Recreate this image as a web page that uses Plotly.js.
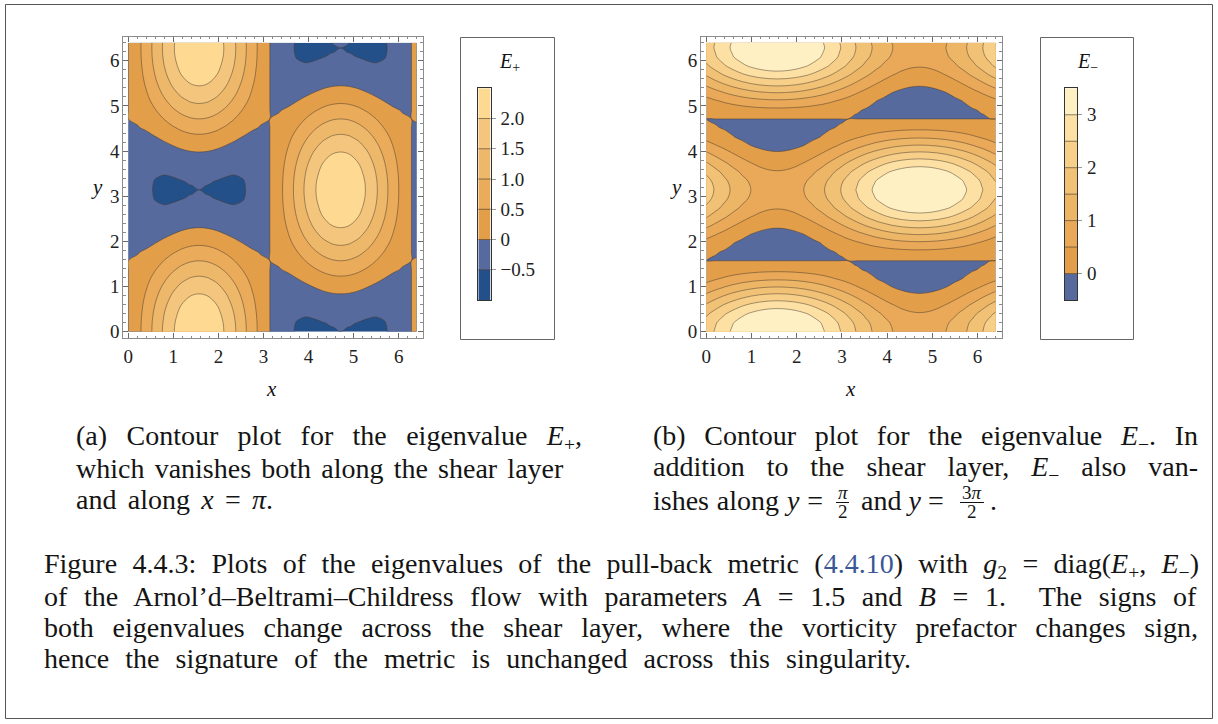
<!DOCTYPE html>
<html><head><meta charset="utf-8">
<script src="https://cdn.plot.ly/plotly-3.0.1.min.js"></script>
<style>html,body{margin:0;padding:0;background:#fff;} #chart{width:1218px;height:724px;}</style>
</head><body><div id="chart"></div>
<script>
// ---- grid coordinates ----
const xGrid = [0, 0.1963, 0.3927, 0.5890, 0.7854, 0.9817, 1.1781, 1.3744, 1.5708, 1.7671, 1.9635, 2.1598, 2.3562, 2.5525, 2.7489, 2.9452, 3.1416, 3.3379, 3.5343, 3.7306, 3.9270, 4.1233, 4.3197, 4.5160, 4.7124, 4.9087, 5.1051, 5.3014, 5.4978, 5.6941, 5.8905, 6.0868, 6.2832, 6.4];
const yGridPlus = [0, 0.0982, 0.1963, 0.3927, 0.5890, 0.7854, 0.9817, 1.1781, 1.3744, 1.5708, 1.7671, 1.9635, 2.1598, 2.3562, 2.5525, 2.7489, 2.9452, 3.0434, 3.1416, 3.2398, 3.3379, 3.5343, 3.7306, 3.9270, 4.1233, 4.3197, 4.5160, 4.7124, 4.9087, 5.1051, 5.3014, 5.4978, 5.6941, 5.8905, 6.0868, 6.1850, 6.2832, 6.4];
const yGridMinus = [0, 0.1963, 0.3927, 0.5890, 0.7854, 0.9817, 1.1781, 1.3744, 1.4726, 1.5708, 1.6690, 1.7671, 1.9635, 2.1598, 2.3562, 2.5525, 2.7489, 2.9452, 3.1416, 3.3379, 3.5343, 3.7306, 3.9270, 4.1233, 4.3197, 4.5160, 4.6142, 4.7124, 4.8106, 4.9087, 5.1051, 5.3014, 5.4978, 5.6941, 5.8905, 6.0868, 6.2832, 6.4];

// ---- E+ rows (one per y line, values along xGrid) ----
const P_p1000 = [0, .331, .721, 1.142, 1.561, 1.939, 2.239, 2.433, 2.500, 2.433, 2.239, 1.939, 1.561, 1.142, .721, .331, 0, -.255, -.428, -.525, -.561, -.556, -.532, -.509, -.500, -.509, -.532, -.556, -.561, -.525, -.428, -.255, 0, .188];
const P_m1000 = [0, -.255, -.428, -.525, -.561, -.556, -.532, -.509, -.500, -.509, -.532, -.556, -.561, -.525, -.428, -.255, 0, .331, .721, 1.142, 1.561, 1.939, 2.239, 2.433, 2.500, 2.433, 2.239, 1.939, 1.561, 1.142, .721, .331, 0, -.161];
const P_p0995 = [0, .329, .718, 1.138, 1.556, 1.933, 2.233, 2.426, 2.493, 2.426, 2.233, 1.933, 1.556, 1.138, .718, .329, 0, -.253, -.425, -.521, -.556, -.550, -.526, -.502, -.493, -.502, -.526, -.550, -.556, -.521, -.425, -.253, 0, .188];
const P_m0995 = [0, -.253, -.425, -.521, -.556, -.550, -.526, -.502, -.493, -.502, -.526, -.550, -.556, -.521, -.425, -.253, 0, .329, .718, 1.138, 1.556, 1.933, 2.233, 2.426, 2.493, 2.426, 2.233, 1.933, 1.556, 1.138, .718, .329, 0, -.160];
const P_p0981 = [0, .325, .710, 1.126, 1.540, 1.915, 2.213, 2.405, 2.471, 2.405, 2.213, 1.915, 1.540, 1.126, .710, .325, 0, -.249, -.417, -.509, -.540, -.532, -.506, -.481, -.471, -.481, -.506, -.532, -.540, -.509, -.417, -.249, 0, .185];
const P_m0981 = [0, -.249, -.417, -.509, -.540, -.532, -.506, -.481, -.471, -.481, -.506, -.532, -.540, -.509, -.417, -.249, 0, .325, .710, 1.126, 1.540, 1.915, 2.213, 2.405, 2.471, 2.405, 2.213, 1.915, 1.540, 1.126, .710, .325, 0, -.158];
const P_p0924 = [0, .309, .677, 1.079, 1.480, 1.844, 2.134, 2.321, 2.386, 2.321, 2.134, 1.844, 1.480, 1.079, .677, .309, 0, -.232, -.384, -.461, -.480, -.461, -.427, -.397, -.386, -.397, -.427, -.461, -.480, -.461, -.384, -.232, 0, .175];
const P_m0924 = [0, -.232, -.384, -.461, -.480, -.461, -.427, -.397, -.386, -.397, -.427, -.461, -.480, -.461, -.384, -.232, 0, .309, .677, 1.079, 1.480, 1.844, 2.134, 2.321, 2.386, 2.321, 2.134, 1.844, 1.480, 1.079, .677, .309, 0, -.148];
const P_p0832 = [0, .281, .624, 1.002, 1.382, 1.729, 2.006, 2.185, 2.247, 2.185, 2.006, 1.729, 1.382, 1.002, .624, .281, 0, -.205, -.331, -.384, -.382, -.346, -.299, -.261, -.247, -.261, -.299, -.346, -.382, -.384, -.331, -.205, 0, .159];
const P_m0832 = [0, -.205, -.331, -.384, -.382, -.346, -.299, -.261, -.247, -.261, -.299, -.346, -.382, -.384, -.331, -.205, 0, .281, .624, 1.002, 1.382, 1.729, 2.006, 2.185, 2.247, 2.185, 2.006, 1.729, 1.382, 1.002, .624, .281, 0, -.132];
const P_p0707 = [0, .245, .552, .898, 1.250, 1.573, 1.834, 2.002, 2.061, 2.002, 1.834, 1.573, 1.250, .898, .552, .245, 0, -.169, -.259, -.281, -.250, -.191, -.126, -.078, -.061, -.078, -.126, -.191, -.250, -.281, -.259, -.169, 0, .137];
const P_m0707 = [0, -.169, -.259, -.281, -.250, -.191, -.126, -.078, -.061, -.078, -.126, -.191, -.250, -.281, -.259, -.169, 0, .245, .552, .898, 1.250, 1.573, 1.834, 2.002, 2.061, 2.002, 1.834, 1.573, 1.250, .898, .552, .245, 0, -.110];
const P_p0556 = [0, .201, .465, .772, 1.089, 1.384, 1.624, 1.779, 1.833, 1.779, 1.624, 1.384, 1.089, .772, .465, .201, 0, -.125, -.172, -.154, -.089, -.002, .084, .145, .167, .145, .084, -.002, -.089, -.154, -.172, -.125, 0, .111];
const P_m0556 = [0, -.125, -.172, -.154, -.089, -.002, .084, .145, .167, .145, .084, -.002, -.089, -.154, -.172, -.125, 0, .201, .465, .772, 1.089, 1.384, 1.624, 1.779, 1.833, 1.779, 1.624, 1.384, 1.089, .772, .465, .201, 0, -.084];
const P_p0383 = [0, .150, .366, .628, .906, 1.169, 1.384, 1.525, 1.574, 1.525, 1.384, 1.169, .906, .628, .366, .150, 0, -.074, -.073, -.010, .094, .214, .323, .399, .426, .399, .323, .214, .094, -.010, -.073, -.074, 0, .081];
const P_m0383 = [0, -.074, -.073, -.010, .094, .214, .323, .399, .426, .399, .323, .214, .094, -.010, -.073, -.074, 0, .150, .366, .628, .906, 1.169, 1.384, 1.525, 1.574, 1.525, 1.384, 1.169, .906, .628, .366, .150, 0, -.053];
const P_p0195 = [0, .095, .259, .471, .707, .935, 1.124, 1.249, 1.293, 1.249, 1.124, .935, .707, .471, .259, .095, 0, -.019, .035, .146, .293, .448, .583, .675, .707, .675, .583, .448, .293, .146, .035, -.019, 0, .048];
const P_m0195 = [0, -.019, .035, .146, .293, .448, .583, .675, .707, .675, .583, .448, .293, .146, .035, -.019, 0, .095, .259, .471, .707, .935, 1.124, 1.249, 1.293, 1.249, 1.124, .935, .707, .471, .259, .095, 0, -.021];
const P_zero = [0, .038, .146, .309, .500, .691, .854, .962, 1.000, .962, .854, .691, .500, .309, .146, .038, 0, .038, .146, .309, .500, .691, .854, .962, 1.000, .962, .854, .691, .500, .309, .146, .038, 0, .014];
const P_p0993 = [0, .329, .717, 1.136, 1.553, 1.930, 2.230, 2.423, 2.490, 2.423, 2.230, 1.930, 1.553, 1.136, .717, .329, 0, -.253, -.424, -.519, -.553, -.547, -.523, -.499, -.490, -.499, -.523, -.547, -.553, -.519, -.424, -.253, 0, .187];
const ePlus = [P_p1000, P_p0995, P_p0981, P_p0924, P_p0832, P_p0707, P_p0556, P_p0383, P_p0195, P_zero, P_m0195, P_m0383, P_m0556, P_m0707, P_m0832, P_m0924, P_m0981, P_m0995, P_m1000, P_m0995, P_m0981, P_m0924, P_m0832, P_m0707, P_m0556, P_m0383, P_m0195, P_zero, P_p0195, P_p0383, P_p0556, P_p0707, P_p0832, P_p0924, P_p0981, P_p0995, P_p1000, P_p0993];

// ---- E- rows (one per y line, values along xGrid) ----
const M_p1000 = [2.250, 2.543, 2.824, 3.083, 3.311, 3.497, 3.636, 3.721, 3.750, 3.721, 3.636, 3.497, 3.311, 3.083, 2.824, 2.543, 2.250, 1.957, 1.676, 1.417, 1.189, 1.003, .864, .779, .750, .779, .864, 1.003, 1.189, 1.417, 1.676, 1.957, 2.250, 2.425];
const M_m1000 = [2.250, 1.957, 1.676, 1.417, 1.189, 1.003, .864, .779, .750, .779, .864, 1.003, 1.189, 1.417, 1.676, 1.957, 2.250, 2.543, 2.824, 3.083, 3.311, 3.497, 3.636, 3.721, 3.750, 3.721, 3.636, 3.497, 3.311, 3.083, 2.824, 2.543, 2.250, 2.075];
const M_p0981 = [2.164, 2.451, 2.727, 2.982, 3.205, 3.388, 3.524, 3.607, 3.636, 3.607, 3.524, 3.388, 3.205, 2.982, 2.727, 2.451, 2.164, 1.877, 1.601, 1.347, 1.124, .941, .805, .721, .693, .721, .805, .941, 1.124, 1.347, 1.601, 1.877, 2.164, 2.336];
const M_m0981 = [2.164, 1.877, 1.601, 1.347, 1.124, .941, .805, .721, .693, .721, .805, .941, 1.124, 1.347, 1.601, 1.877, 2.164, 2.451, 2.727, 2.982, 3.205, 3.388, 3.524, 3.607, 3.636, 3.607, 3.524, 3.388, 3.205, 2.982, 2.727, 2.451, 2.164, 1.993];
const M_p0924 = [1.921, 2.191, 2.451, 2.691, 2.901, 3.073, 3.201, 3.280, 3.307, 3.280, 3.201, 3.073, 2.901, 2.691, 2.451, 2.191, 1.921, 1.650, 1.390, 1.151, .941, .768, .640, .561, .535, .561, .640, .768, .941, 1.151, 1.390, 1.650, 1.921, 2.082];
const M_m0924 = [1.921, 1.650, 1.390, 1.151, .941, .768, .640, .561, .535, .561, .640, .768, .941, 1.151, 1.390, 1.650, 1.921, 2.191, 2.451, 2.691, 2.901, 3.073, 3.201, 3.280, 3.307, 3.280, 3.201, 3.073, 2.901, 2.691, 2.451, 2.191, 1.921, 1.759];
const M_p0832 = [1.556, 1.799, 2.033, 2.249, 2.438, 2.593, 2.708, 2.779, 2.803, 2.779, 2.708, 2.593, 2.438, 2.249, 2.033, 1.799, 1.556, 1.312, 1.078, .863, .674, .519, .403, .332, .308, .332, .403, .519, .674, .863, 1.078, 1.312, 1.556, 1.701];
const M_m0832 = [1.556, 1.312, 1.078, .863, .674, .519, .403, .332, .308, .332, .403, .519, .674, .863, 1.078, 1.312, 1.556, 1.799, 2.033, 2.249, 2.438, 2.593, 2.708, 2.779, 2.803, 2.779, 2.708, 2.593, 2.438, 2.249, 2.033, 1.799, 1.556, 1.410];
const M_p0707 = [1.125, 1.332, 1.531, 1.714, 1.875, 2.007, 2.105, 2.165, 2.186, 2.165, 2.105, 2.007, 1.875, 1.714, 1.531, 1.332, 1.125, .918, .719, .536, .375, .243, .145, .085, .064, .085, .145, .243, .375, .536, .719, .918, 1.125, 1.249];
const M_m0707 = [1.125, .918, .719, .536, .375, .243, .145, .085, .064, .085, .145, .243, .375, .536, .719, .918, 1.125, 1.332, 1.531, 1.714, 1.875, 2.007, 2.105, 2.165, 2.186, 2.165, 2.105, 2.007, 1.875, 1.714, 1.531, 1.332, 1.125, 1.001];
const M_p0556 = [.695, .857, 1.013, 1.158, 1.284, 1.388, 1.465, 1.512, 1.528, 1.512, 1.465, 1.388, 1.284, 1.158, 1.013, .857, .695, .532, .376, .232, .105, .002, -.076, -.123, -.139, -.123, -.076, .002, .105, .232, .376, .532, .695, .792];
const M_m0556 = [.695, .532, .376, .232, .105, .002, -.076, -.123, -.139, -.123, -.076, .002, .105, .232, .376, .532, .695, .857, 1.013, 1.158, 1.284, 1.388, 1.465, 1.512, 1.528, 1.512, 1.465, 1.388, 1.284, 1.158, 1.013, .857, .695, .597];
const M_p0383 = [.330, .442, .549, .648, .735, .807, .860, .893, .904, .893, .860, .807, .735, .648, .549, .442, .330, .218, .110, .011, -.076, -.148, -.201, -.234, -.245, -.234, -.201, -.148, -.076, .011, .110, .218, .330, .396];
const M_m0383 = [.330, .218, .110, .011, -.076, -.148, -.201, -.234, -.245, -.234, -.201, -.148, -.076, .011, .110, .218, .330, .442, .549, .648, .735, .807, .860, .893, .904, .893, .860, .807, .735, .648, .549, .442, .330, .263];
const M_p0195 = [.086, .143, .198, .248, .293, .329, .356, .373, .378, .373, .356, .329, .293, .248, .198, .143, .086, .029, -.026, -.077, -.121, -.158, -.185, -.201, -.207, -.201, -.185, -.158, -.121, -.077, -.026, .029, .086, .120];
const M_m0195 = [.086, .029, -.026, -.077, -.121, -.158, -.185, -.201, -.207, -.201, -.185, -.158, -.121, -.077, -.026, .029, .086, .143, .198, .248, .293, .329, .356, .373, .378, .373, .356, .329, .293, .248, .198, .143, .086, .052];
const M_p0098 = [.022, .050, .078, .103, .126, .144, .157, .166, .169, .166, .157, .144, .126, .103, .078, .050, .022, -.007, -.035, -.060, -.082, -.101, -.114, -.123, -.125, -.123, -.114, -.101, -.082, -.060, -.035, -.007, .022, .039];
const M_m0098 = [.022, -.007, -.035, -.060, -.082, -.101, -.114, -.123, -.125, -.123, -.114, -.101, -.082, -.060, -.035, -.007, .022, .050, .078, .103, .126, .144, .157, .166, .169, .166, .157, .144, .126, .103, .078, .050, .022, .005];
const M_zero = [0, 0, 0, 0, 0, 0, 0, 0, 0, 0, 0, 0, 0, 0, 0, 0, 0, 0, 0, 0, 0, 0, 0, 0, 0, 0, 0, 0, 0, 0, 0, 0, 0, 0];
const M_p0993 = [2.220, 2.510, 2.790, 3.047, 3.273, 3.458, 3.596, 3.681, 3.709, 3.681, 3.596, 3.458, 3.273, 3.047, 2.790, 2.510, 2.220, 1.929, 1.649, 1.392, 1.166, .981, .843, .758, .730, .758, .843, .981, 1.166, 1.392, 1.649, 1.929, 2.220, 2.393];
const eMinus = [M_p1000, M_p0981, M_p0924, M_p0832, M_p0707, M_p0556, M_p0383, M_p0195, M_p0098, M_zero, M_m0098, M_m0195, M_m0383, M_m0556, M_m0707, M_m0832, M_m0924, M_m0981, M_m1000, M_m0981, M_m0924, M_m0832, M_m0707, M_m0556, M_m0383, M_m0195, M_m0098, M_zero, M_p0098, M_p0195, M_p0383, M_p0556, M_p0707, M_p0832, M_p0924, M_p0981, M_p1000, M_p0993];

// ---- contour levels, bands, colours, tick labels ----
const ePlusLevels = [-0.5, 0, 0.5, 1.0, 1.5, 2.0];
const eMinusLevels = [0, 0.5, 1.0, 1.5, 2.0, 2.5, 3.0];
const ePlusBands = [-0.75, -0.25, 0.25, 0.75, 1.25, 1.75, 2.25];
const eMinusBands = [-0.25, 0.25, 0.75, 1.25, 1.75, 2.25, 2.75, 3.25];
const ePlusColors = ['#245089', '#566a9e', '#e39e4a', '#eaab5b', '#eeb86b', '#f4c67d', '#fdd991'];
const eMinusColors = ['#566a9e', '#e39e4a', '#e9a958', '#edb566', '#f1c176', '#f7cf89', '#fde0a3', '#fff0c4'];
const axisTicks = [0, 1, 2, 3, 4, 5, 6];
const axisTickLabels = ['0', '1', '2', '3', '4', '5', '6'];
const ePlusBarTicks = [-0.5, 0, 0.5, 1.0, 1.5, 2.0];
const ePlusBarLabels = ['\u22120.5', '0', '0.5', '1.0', '1.5', '2.0'];
const eMinusBarTicks = [0, 1, 2, 3];
const eMinusBarLabels = ['0', '1', '2', '3'];

const W = 1218, H = 724;
const px = v => v / W, py = v => 1 - v / H;
const SERIF = 'Liberation Serif, Times New Roman, serif';
const LINE = 'rgba(70,58,45,0.62)';

function scale(cols) { return cols.map((c, i) => [i / (cols.length - 1), c]); }

function contourTrace(x, y, z, levels, cols, xa, ya) {
  return {type: 'contour', x: x, y: y, z: z, xaxis: xa, yaxis: ya,
    autocontour: false,
    contours: {start: levels[0], end: levels[levels.length - 1], size: levels[1] - levels[0], coloring: 'fill', showlines: true},
    line: {color: LINE, width: 0.8, smoothing: 1},
    colorscale: scale(cols), showscale: false, hoverinfo: 'skip'};
}
function barTrace(bands, cols, xa, ya) {
  return {type: 'heatmap', x: [0], y: bands, z: bands.map(v => [v]), xaxis: xa, yaxis: ya,
    colorscale: scale(cols), zmin: bands[0], zmax: bands[bands.length - 1], showscale: false, hoverinfo: 'skip'};
}

const data = [
  contourTrace(xGrid, yGridPlus, ePlus, ePlusLevels, ePlusColors, 'x', 'y'),
  contourTrace(xGrid, yGridMinus, eMinus, eMinusLevels, eMinusColors, 'x2', 'y2'),
  barTrace(ePlusBands, ePlusColors, 'x3', 'y3'),
  barTrace(eMinusBands, eMinusColors, 'x4', 'y4')
];

function frameAxis(domain, range, anchor, standoff) {
  return {domain: domain, range: range, anchor: anchor, showline: true, linecolor: '#8c8c8c', linewidth: 1, mirror: 'ticks',
    ticks: 'inside', ticklen: 5, tickwidth: 1, tickcolor: '#6a6a6a', tickmode: 'array', tickvals: axisTicks, ticktext: axisTickLabels,
    showgrid: false, zeroline: false, tickfont: {family: SERIF, size: 19, color: '#222'},
    minor: {tickmode: 'linear', tick0: 0, dtick: 0.2, ticks: 'inside', ticklen: 2.5, tickcolor: '#8a8a8a', showgrid: false},
    ticklabelstandoff: standoff, fixedrange: true};
}
function barX(domain, anchor) {
  return {domain: domain, range: [-0.5, 0.5], anchor: anchor, showline: true, mirror: true, linecolor: '#333', linewidth: 1,
    showticklabels: false, ticks: '', showgrid: false, zeroline: false, fixedrange: true};
}
function barY(domain, range, anchor, tv, tt) {
  return {domain: domain, range: range, anchor: anchor, side: 'right', showline: true, mirror: true, linecolor: '#333', linewidth: 1,
    ticks: 'outside', ticklen: 4, tickcolor: '#999', tickmode: 'array', tickvals: tv, ticktext: tt,
    showgrid: false, zeroline: false, tickfont: {family: SERIF, size: 19, color: '#222'}, ticklabelstandoff: 1, fixedrange: true};
}

const shapes = [];
function rectPx(x0, y0, x1, y1, color) {
  shapes.push({type: 'rect', xref: 'paper', yref: 'paper', x0: px(x0), x1: px(x1), y0: py(y1), y1: py(y0),
    line: {color: color, width: 1}, fillcolor: 'rgba(0,0,0,0)'});
}
function linePx(x0, x1, y, color, w) {
  shapes.push({type: 'line', xref: 'paper', yref: 'paper', x0: px(x0), x1: px(x1), y0: py(y), y1: py(y), line: {color: color, width: w}});
}
rectPx(5.5, 4.5, 1212.5, 718.5, '#555');
rectPx(460.5, 37.5, 554.5, 339.5, '#666');
rectPx(1040.5, 37.5, 1133.5, 339.5, '#666');
ePlusLevels.forEach(l => shapes.push({type: 'line', xref: 'x3 domain', yref: 'y3', x0: 0, x1: 1, y0: l, y1: l, line: {color: LINE, width: 1}}));
eMinusLevels.forEach(l => shapes.push({type: 'line', xref: 'x4 domain', yref: 'y4', x0: 0, x1: 1, y0: l, y1: l, line: {color: LINE, width: 1}}));
linePx(836, 849, 502.5, '#111', 1);
linePx(960, 984, 502.5, '#111', 1);

const annotations = [];
const targets = [];
function txt(text, x, y, size, anchor, target) {
  annotations.push({text: text, x: px(x), y: py(y), xref: 'paper', yref: 'paper', showarrow: false,
    xanchor: anchor || 'left', yanchor: 'middle', align: 'left', borderpad: 0,
    font: {family: SERIF, size: size || 28, color: '#141414'}});
  targets.push(target || 0);
}
txt('<i>y</i>', 97, 187, 21, 'center');
txt('<i>x</i>', 271, 389, 21, 'center');
txt('<i>y</i>', 676, 187, 21, 'center');
txt('<i>x</i>', 850, 389, 21, 'center');
txt('<i>E</i><sub>+</sub>', 509, 62, 20, 'center');
txt('<i>E</i><sub>\u2212</sub>', 1087, 62, 20, 'center');
txt('(a) Contour plot for the eigenvalue <i>E</i><sub>+</sub>,', 75, 437, 28, 'left', 506);
txt('which vanishes both along the shear layer', 75, 468, 28, 'left', 488);
txt('and along <i>x</i> = <i>\u03c0</i>.', 75, 499, 28, 'left', 197);
txt('(b) Contour plot for the eigenvalue <i>E</i><sub>\u2212</sub>. In', 652, 437, 28, 'left', 545);
txt('addition to the shear layer, <i>E</i><sub>\u2212</sub> also van-', 652, 468, 28, 'left', 545);
txt('ishes along <i>y</i> =', 652, 500, 28, 'left', 170);
txt('<i>\u03c0</i>', 842.5, 492, 19, 'center');
txt('2', 842.5, 511, 19, 'center');
txt('and <i>y</i> =', 860, 500, 28, 'left');
txt('3<i>\u03c0</i>', 972, 492, 19, 'center');
txt('2', 972, 511, 19, 'center');
txt('.', 989, 500, 28, 'left');
txt('Figure 4.4.3: Plots of the eigenvalues of the pull-back metric (<span style="color:#3a5797">4.4.10</span>) with <i>g</i><sub>2</sub> = diag(<i>E</i><sub>+</sub>, <i>E</i><sub>\u2212</sub>)', 43, 565, 28, 'left', 1155);
txt('of the Arnol\u2019d\u2013Beltrami\u2013Childress flow with parameters <i>A</i> = 1.5 and <i>B</i> = 1.  The signs of', 43, 596, 28, 'left', 1153);
txt('both eigenvalues change across the shear layer, where the vorticity prefactor changes sign,', 43, 627, 28, 'left', 1154);
txt('hence the signature of the metric is unchanged across this singularity.', 43, 658, 28, 'left', 867);

const layout = {
  width: W, height: H, margin: {l: 0, r: 0, t: 0, b: 0}, paper_bgcolor: '#fff', plot_bgcolor: '#fff', showlegend: false,
  xaxis: frameAxis([px(123.3), px(422.7)], [-0.111, 6.533], 'y', 1),
  yaxis: frameAxis([py(338.3), py(36.7)], [-0.146, 6.533], 'x', -1),
  xaxis2: frameAxis([px(701), px(1001.7)], [-0.117, 6.533], 'y2', 1),
  yaxis2: frameAxis([py(338.3), py(36.7)], [-0.146, 6.533], 'x2', -1),
  xaxis3: barX([px(478.3), px(490.7)], 'y3'),
  yaxis3: barY([py(300), py(88.3)], [-1.0, 2.5], 'x3', ePlusBarTicks, ePlusBarLabels),
  xaxis4: barX([px(1065), px(1077.3)], 'y4'),
  yaxis4: barY([py(300), py(88.3)], [-0.5, 3.5], 'x4', eMinusBarTicks, eMinusBarLabels),
  shapes: shapes, annotations: annotations
};

Plotly.newPlot('chart', data, layout, {displayModeBar: false, staticPlot: true}).then(function (gd) {
  gd.querySelectorAll('g.annotation').forEach(function (g) {
    const idx = +g.getAttribute('data-index');
    const target = targets[idx];
    if (!target) return;
    const t = g.querySelector('text.annotation-text');
    if (!t) return;
    const nat = t.getBBox().width;
    const n = (t.textContent.match(/[ \u00a0]/g) || []).length;
    if (n > 0) t.style.wordSpacing = ((target - nat) / n) + 'px';
  });
});
</script>
</body></html>
